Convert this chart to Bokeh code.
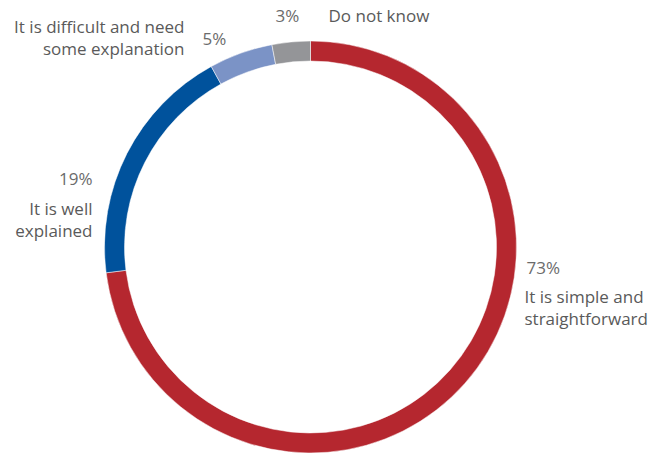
import math
from bokeh.plotting import figure
from bokeh.models import Range1d, ColumnDataSource
from bokeh.core.properties import value
from bokeh.embed import file_html
from bokeh.resources import INLINE

# ---- data ----
categories = ["It is simple and\nstraightforward", "It is well\nexplained",
              "It is difficult and need\nsome explanation", "Do not know"]
values = [73, 19, 5, 3]
pct_labels = ["73%", "19%", "5%", "3%"]
colors = ["#B5272F", "#00529C", "#7B93C6", "#949598"]

# ---- layout ----
W, H = 648, 454
CX, CY = 310, H - 246.5
R_OUT, R_IN = 206, 186
FONT = "Open Sans"

total = sum(values)
cum = [0]
for v in values:
    cum.append(cum[-1] + v)
start = [math.pi / 2 - cum[i + 1] / total * 2 * math.pi for i in range(len(values))]
end = [math.pi / 2 - cum[i] / total * 2 * math.pi for i in range(len(values))]

p = figure(width=W, height=H, output_backend="svg", toolbar_location=None,
           x_range=Range1d(0, W), y_range=Range1d(0, H), min_border=0)
p.axis.visible = False
p.grid.visible = False
p.outline_line_color = None
p.background_fill_color = "white"
p.border_fill_color = "white"

src = ColumnDataSource(dict(start=start, end=end, color=colors, cat=categories))
p.annular_wedge(x=CX, y=CY, inner_radius=R_IN, outer_radius=R_OUT,
                inner_radius_units="screen", outer_radius_units="screen",
                start_angle="start", end_angle="end", color="color",
                line_color="white", line_width=0.5, source=src)

# label placements (screen px from top-left): pct (x, y, align), label (x, y, align)
pct_pos = [(526, 267, "left"), (92, 178, "right"), (202, 38, "left"), (275, 15, "left")]
lab_pos = [(524, 307, "left"), (92, 219, "right"), (184, 37, "right"), (328, 15, "left")]

for i in range(len(values)):
    px, py, pa = pct_pos[i]
    lx, ly, la = lab_pos[i]
    p.text(x=[px], y=[H - py], text=[pct_labels[i]], text_align=pa,
           text_baseline="middle", text_font=value(FONT), text_font_size="17px",
           text_color="#6b6b6b")
    p.text(x=[lx], y=[H - ly], text=[categories[i]], text_align=la,
           text_baseline="middle", text_font=value(FONT), text_font_size="17px",
           text_color="#5a5a5a", text_line_height=0.95)

open("out.html", "w").write(file_html(p, INLINE))
